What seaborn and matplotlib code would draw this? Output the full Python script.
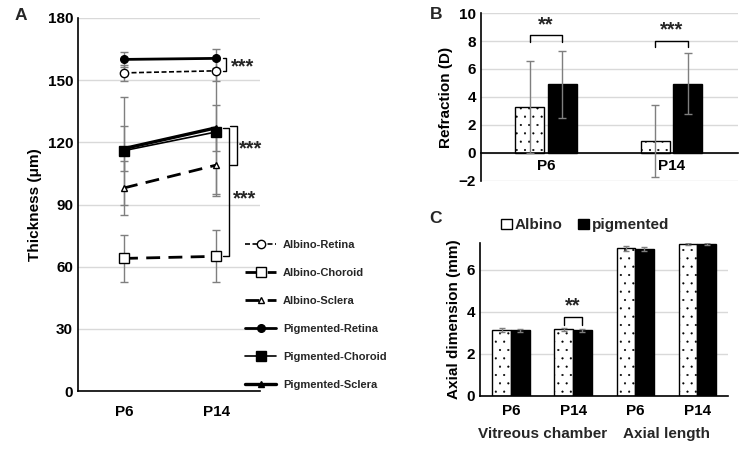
import matplotlib
matplotlib.use('Agg')
import matplotlib.pyplot as plt
from matplotlib.patches import Patch
import pandas as pd
import seaborn as sns

ages = ['P6', 'P14']

# panel A: thickness (um), mean and SD
albino_retina = [153.5, 154.5]
albino_retina_sd = [4, 5]
albino_choroid = [64, 65]
albino_choroid_sd = [11.5, 12.5]
albino_sclera = [98, 109]
albino_sclera_sd = [13, 15]
pig_retina = [160, 160.5]
pig_retina_sd = [3.5, 4.5]
pig_choroid = [116, 125]
pig_choroid_sd = [26, 30]
pig_sclera = [117, 127]
pig_sclera_sd = [11, 11]

# panel B: refraction (D)
refr_albino = [3.3, 0.85]
refr_albino_sd = [3.3, 2.6]
refr_pig = [4.9, 4.95]
refr_pig_sd = [2.4, 2.2]

# panel C: axial dimension (mm)
axial_cats = ['VC-P6', 'VC-P14', 'AL-P6', 'AL-P14']
axial_ticks = ['P6', 'P14', 'P6', 'P14']
axial_groups = ['Vitreous chamber', 'Axial length']
axial_albino = [3.12, 3.15, 7.02, 7.2]
axial_albino_sd = [0.1, 0.07, 0.12, 0.05]
axial_pig = [3.1, 3.1, 7.0, 7.2]
axial_pig_sd = [0.06, 0.06, 0.1, 0.05]

sns.set_theme(style='white')
plt.rcParams['font.family'] = ['Liberation Sans', 'DejaVu Sans']
plt.rcParams['font.weight'] = 'bold'
plt.rcParams['hatch.linewidth'] = 0.3

GRID = '#d9d9d9'
ERR = '#7f7f7f'
STAR = 14.5

fig = plt.figure(figsize=(7.5, 4.49), dpi=100)


def style_axis(ax):
    for s in ['top', 'right']:
        ax.spines[s].set_visible(False)
    ax.spines['left'].set_color('black')
    ax.spines['bottom'].set_color('black')
    ax.spines['left'].set_linewidth(1.2)
    ax.spines['bottom'].set_linewidth(1.2)
    ax.grid(visible=True, axis='y', color=GRID, lw=1)
    ax.grid(visible=False, axis='x')
    ax.set_axisbelow(True)
    ax.tick_params(axis='both', length=0, labelsize=11, colors='black')
    for t in ax.get_xticklabels() + ax.get_yticklabels():
        t.set_fontweight('bold')


# ---------------- panel A
axA = fig.add_axes([0.104, 0.129, 0.243, 0.831])
series = [
    ('Albino-Retina', albino_retina, albino_retina_sd, (0, (3, 1.5)), 1.2, 'o', 'white', 6),
    ('Albino-Choroid', albino_choroid, albino_choroid_sd, (0, (5, 3)), 2.0, 's', 'white', 6.5),
    ('Albino-Sclera', albino_sclera, albino_sclera_sd, (0, (5, 3)), 2.0, '^', 'white', 4.5),
    ('Pigmented-Retina', pig_retina, pig_retina_sd, '-', 2.0, 'o', 'black', 5.5),
    ('Pigmented-Choroid', pig_choroid, pig_choroid_sd, '-', 1.2, 's', 'black', 7),
    ('Pigmented-Sclera', pig_sclera, pig_sclera_sd, '-', 2.4, '^', 'black', 5),
]
for name, vals, sd, ls, lw, mk, mfc, ms in series:
    axA.errorbar(ages, vals, yerr=sd, fmt='none', ecolor=ERR, elinewidth=1, capsize=3, zorder=1)
handles = []
for name, vals, sd, ls, lw, mk, mfc, ms in series:
    sns.lineplot(x=ages, y=vals, ax=axA, color='black', lw=lw, marker=mk, markersize=ms,
                 markerfacecolor=mfc, markeredgecolor='black', markeredgewidth=1, sort=False,
                 label=name, zorder=3)
    line = axA.lines[-1]
    line.set_linestyle(ls)
    handles.append(line)
axA.get_legend().remove()
axA.set_xlim(-0.5, 1.48)
axA.set_ylim(0, 180)
axA.set_yticks(range(0, 181, 30))
axA.set_xlabel('')
axA.set_ylabel('Thickness (μm)', fontsize=11, fontweight='bold', color='black')
style_axis(axA)
axA.tick_params(axis='x', pad=10)


def vbracket(ax, x, y0, y1, tick, lw=1.0):
    ax.plot([x - tick, x, x, x - tick], [y0, y0, y1, y1], color='black', lw=lw, clip_on=False)


vbracket(axA, 1.11, 154.5, 160.5, 0.04)
axA.text(1.16, 156.5, '***', fontsize=STAR, fontweight='bold', va='center', ha='left')
vbracket(axA, 1.23, 109, 128, 0.08)
axA.text(1.25, 117, '***', fontsize=STAR, fontweight='bold', va='center', ha='left', clip_on=False)
vbracket(axA, 1.145, 65, 127, 0.07)
axA.text(1.18, 92.5, '***', fontsize=STAR, fontweight='bold', va='center', ha='left')

fig.legend(handles, [s[0] for s in series], loc='upper left', bbox_to_anchor=(0.327, 0.466),
           frameon=False, labelspacing=1.62, handlelength=2.8,
           handletextpad=0.6, borderpad=0, borderaxespad=0, numpoints=1,
           prop={'weight': 'bold', 'size': 8})

# ---------------- panel B
axB = fig.add_axes([0.641, 0.597, 0.343, 0.374])
dfB = pd.DataFrame({'age': ages * 2,
                    'group': ['Albino'] * 2 + ['pigmented'] * 2,
                    'val': refr_albino + refr_pig})
sns.barplot(data=dfB, x='age', y='val', hue='group', palette=['white', 'black'],
            edgecolor='black', linewidth=1, width=0.52, gap=0.12, errorbar=None,
            legend=False, ax=axB)
bars = axB.patches
for p in bars[:2]:
    p.set_hatch('..')
xs = [p.get_x() + p.get_width() / 2 for p in bars]
axB.errorbar(xs, refr_albino + refr_pig, yerr=refr_albino_sd + refr_pig_sd, fmt='none',
             ecolor=ERR, elinewidth=1, capsize=3, zorder=4)
axB.set_xlim(-0.52, 1.53)
axB.set_ylim(-2, 10)
axB.set_yticks(range(-2, 11, 2))
axB.set_xlabel('')
axB.set_ylabel('Refraction (D)', fontsize=11, fontweight='bold', color='black')
style_axis(axB)
axB.spines['bottom'].set_position(('data', 0))
axB.tick_params(axis='x', pad=4)


def hbracket(ax, x0, x1, y, tick, lw=1.0):
    ax.plot([x0, x0, x1, x1], [y - tick, y, y, y - tick], color='black', lw=lw)


hbracket(axB, xs[0], xs[2], 8.4, 0.45)
axB.text((xs[0] + xs[2]) / 2, 8.5, '**', fontsize=STAR, fontweight='bold', ha='center', va='bottom')
hbracket(axB, xs[1], xs[3], 8.0, 0.45)
axB.text((xs[1] + xs[3]) / 2, 8.1, '***', fontsize=STAR, fontweight='bold', ha='center', va='bottom')

# ---------------- panel C
axC = fig.add_axes([0.64, 0.119, 0.331, 0.339])
dfC = pd.DataFrame({'part': axial_cats * 2,
                    'group': ['Albino'] * 4 + ['pigmented'] * 4,
                    'val': axial_albino + axial_pig})
sns.barplot(data=dfC, x='part', y='val', hue='group', palette=['white', 'black'],
            edgecolor='black', linewidth=1, width=0.6, errorbar=None, legend=False, ax=axC)
barsC = axC.patches
for p in barsC[:4]:
    p.set_hatch('..')
xc = [p.get_x() + p.get_width() / 2 for p in barsC]
axC.errorbar(xc, axial_albino + axial_pig, yerr=axial_albino_sd + axial_pig_sd, fmt='none',
             ecolor=ERR, elinewidth=1, capsize=2.5, zorder=4)
axC.set_xlim(-0.5, 3.5)
axC.set_ylim(0, 7.25)
axC.set_yticks([0, 2, 4, 6])
axC.set_xticks(range(4))
axC.set_xticklabels(axial_ticks)
axC.set_xlabel('')
axC.set_ylabel('Axial dimension (mm)', fontsize=11, fontweight='bold', color='black')
style_axis(axC)
axC.tick_params(axis='x', pad=6)
for i, g in enumerate(axial_groups):
    axC.text(2 * i + 0.5, -0.25, g, transform=axC.get_xaxis_transform(), ha='center',
             va='center', fontsize=11, fontweight='bold')
hbracket(axC, xc[1], xc[5], 3.75, 0.4)
axC.text((xc[1] + xc[5]) / 2, 3.8, '**', fontsize=STAR, fontweight='bold', ha='center', va='bottom')
fig.legend([Patch(facecolor='white', edgecolor='black'),
            Patch(facecolor='black', edgecolor='black')], ['Albino', 'pigmented'],
           loc='center', bbox_to_anchor=(0.78, 0.498), ncol=2, frameon=False,
           handlelength=0.7, handleheight=0.7, handletextpad=0.2, columnspacing=1.0,
           prop={'weight': 'bold', 'size': 11})

# panel letters
fig.text(0.02, 0.965, 'A', fontsize=12.5, fontweight='bold', va='center')
fig.text(0.573, 0.968, 'B', fontsize=12.5, fontweight='bold', va='center')
fig.text(0.573, 0.513, 'C', fontsize=12.5, fontweight='bold', va='center')

fig.savefig('out.png', dpi=100)
